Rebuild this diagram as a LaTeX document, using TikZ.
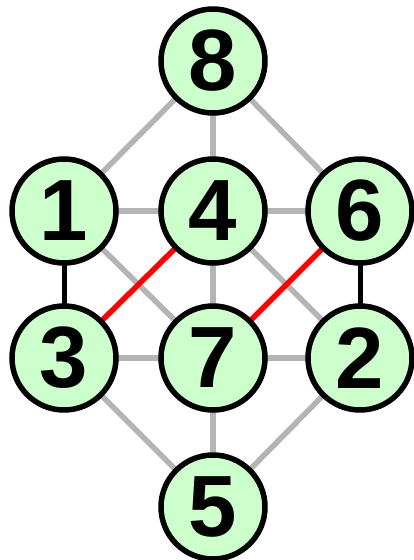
\documentclass[tikz,border=0pt]{standalone}
\usepackage{fontspec}
\setmainfont{Liberation Sans}
\usetikzlibrary{backgrounds}
\definecolor{nodegreen}{HTML}{CCFFCC}
\definecolor{edgegray}{HTML}{B4B4B4}
\tikzset{
  vtx/.style={circle, draw=black, fill=nodegreen, line width=5.5pt, minimum size=104pt, inner sep=0pt, font=\fontsize{87}{87}\selectfont\bfseries},
  grayedge/.style={draw=edgegray, line width=5.5pt},
  rededge/.style={draw=red, line width=5.5pt},
  blackedge/.style={draw=black, line width=5pt}
}
\begin{document}
\begin{tikzpicture}[x=1pt,y=-1pt]
\useasboundingbox (0,0) rectangle (414,560);
\node[vtx] (n8) at (213,61) {8};
\node[vtx] (n1) at (64,211) {1};
\node[vtx] (n4) at (213,211) {4};
\node[vtx] (n6) at (360,211) {6};
\node[vtx] (n3) at (64,358) {3};
\node[vtx] (n7) at (213,358) {7};
\node[vtx] (n2) at (360,358) {2};
\node[vtx] (n5) at (213,507) {5};
\begin{scope}[on background layer]
\draw[grayedge] (n8.center) -- (n1.center);
\draw[grayedge] (n8.center) -- (n4.center);
\draw[grayedge] (n8.center) -- (n6.center);
\draw[grayedge] (n1.center) -- (n4.center);
\draw[grayedge] (n4.center) -- (n6.center);
\draw[grayedge] (n1.center) -- (n7.center);
\draw[grayedge] (n4.center) -- (n2.center);
\draw[grayedge] (n4.center) -- (n7.center);
\draw[grayedge] (n3.center) -- (n7.center);
\draw[grayedge] (n7.center) -- (n2.center);
\draw[grayedge] (n3.center) -- (n5.center);
\draw[grayedge] (n7.center) -- (n5.center);
\draw[grayedge] (n2.center) -- (n5.center);
\draw[blackedge] (n1.center) -- (n3.center);
\draw[blackedge] (n6.center) -- (n2.center);
\draw[rededge] (n4.center) -- (n3.center);
\draw[rededge] (n6.center) -- (n7.center);
\end{scope}
\end{tikzpicture}
\end{document}
